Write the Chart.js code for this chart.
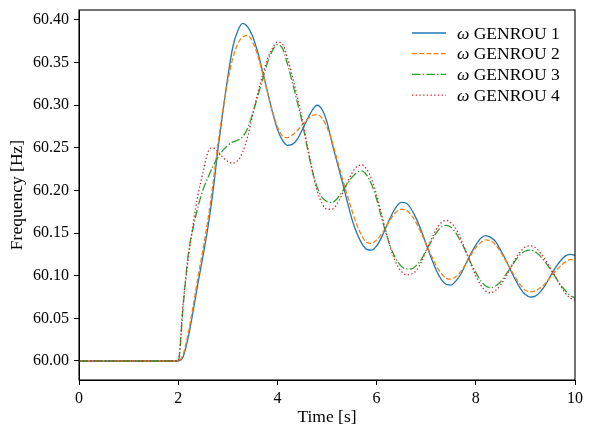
<!DOCTYPE html>
<html>
<head>
<meta charset="utf-8">
<script src="https://cdn.jsdelivr.net/npm/chart.js@4/dist/chart.umd.min.js"></script>
<style>
  html, body { margin: 0; padding: 0; background: #fff; }
  #freqChart { display: block; }
</style>
</head>
<body>
<canvas id="freqChart" width="593" height="436"></canvas>
<script>
// ===== DATA =====
const times = [0,
  2.0, 2.1, 2.2, 2.3, 2.4, 2.5, 2.6, 2.7, 2.8, 2.9,
  3.0, 3.1, 3.2, 3.3, 3.4, 3.5, 3.6, 3.7, 3.8, 3.9,
  4.0, 4.1, 4.2, 4.3, 4.4, 4.5, 4.6, 4.7, 4.8, 4.9,
  5.0, 5.1, 5.2, 5.3, 5.4, 5.5, 5.6, 5.7, 5.8, 5.9,
  6.0, 6.1, 6.2, 6.3, 6.4, 6.5, 6.6, 6.7, 6.8, 6.9,
  7.0, 7.1, 7.2, 7.3, 7.4, 7.5, 7.6, 7.7, 7.8, 7.9,
  8.0, 8.1, 8.2, 8.3, 8.4, 8.5, 8.6, 8.7, 8.8, 8.9,
  9.0, 9.1, 9.2, 9.3, 9.4, 9.5, 9.6, 9.7, 9.8, 9.9,
  10.0];

const genrou1 = [60.000,
  60.000, 60.005, 60.027, 60.058, 60.092, 60.123, 60.157, 60.198, 60.248, 60.292,
  60.333, 60.368, 60.387, 60.396, 60.392, 60.381, 60.363, 60.340, 60.316, 60.292,
  60.272, 60.259, 60.253, 60.254, 60.260, 60.271, 60.283, 60.294, 60.300, 60.295,
  60.280, 60.256, 60.234, 60.212, 60.189, 60.167, 60.150, 60.138, 60.131, 60.130,
  60.135, 60.145, 60.158, 60.171, 60.181, 60.186, 60.185, 60.178, 60.167, 60.153,
  60.137, 60.121, 60.107, 60.096, 60.090, 60.089, 60.094, 60.102, 60.114, 60.126,
  60.136, 60.144, 60.147, 60.145, 60.140, 60.130, 60.119, 60.107, 60.095, 60.085,
  60.078, 60.075, 60.076, 60.081, 60.089, 60.099, 60.109, 60.117, 60.123, 60.125,
  60.124];

const genrou2 = [60.000,
  60.000, 60.008, 60.032, 60.064, 60.099, 60.131, 60.166, 60.208, 60.254, 60.294,
  60.328, 60.355, 60.372, 60.380, 60.382, 60.374, 60.359, 60.338, 60.315, 60.293,
  60.275, 60.264, 60.262, 60.265, 60.270, 60.277, 60.283, 60.288, 60.289, 60.285,
  60.274, 60.258, 60.237, 60.216, 60.196, 60.177, 60.160, 60.147, 60.139, 60.138,
  60.142, 60.149, 60.158, 60.168, 60.175, 60.178, 60.177, 60.171, 60.162, 60.150,
  60.137, 60.124, 60.112, 60.103, 60.097, 60.096, 60.099, 60.105, 60.114, 60.124,
  60.133, 60.139, 60.142, 60.141, 60.136, 60.128, 60.118, 60.108, 60.098, 60.089,
  60.083, 60.081, 60.082, 60.086, 60.091, 60.098, 60.105, 60.111, 60.116, 60.119,
  60.119];

const genrou3 = [60.000,
  60.000, 60.064, 60.124, 60.156, 60.181, 60.201, 60.215, 60.228, 60.239, 60.247,
  60.253, 60.257, 60.259, 60.263, 60.273, 60.290, 60.310, 60.330, 60.350, 60.364,
  60.371, 60.367, 60.349, 60.327, 60.304, 60.280, 60.251, 60.224, 60.204, 60.192,
  60.187, 60.186, 60.190, 60.198, 60.207, 60.215, 60.221, 60.223, 60.218, 60.207,
  60.190, 60.168, 60.148, 60.131, 60.119, 60.111, 60.108, 60.108, 60.112, 60.119,
  60.130, 60.140, 60.150, 60.157, 60.159, 60.157, 60.150, 60.140, 60.128, 60.115,
  60.104, 60.094, 60.088, 60.086, 60.088, 60.093, 60.101, 60.109, 60.118, 60.125,
  60.129, 60.130, 60.128, 60.123, 60.116, 60.108, 60.099, 60.090, 60.083, 60.077,
  60.074];

const genrou4 = [60.000,
  60.000, 60.068, 60.118, 60.160, 60.195, 60.221, 60.245, 60.250, 60.246, 60.239,
  60.234, 60.232, 60.235, 60.245, 60.263, 60.288, 60.313, 60.335, 60.354, 60.367,
  60.374, 60.372, 60.356, 60.334, 60.310, 60.284, 60.254, 60.225, 60.200, 60.185,
  60.178, 60.178, 60.184, 60.195, 60.208, 60.220, 60.228, 60.230, 60.225, 60.213,
  60.195, 60.172, 60.149, 60.129, 60.114, 60.105, 60.101, 60.102, 60.106, 60.116,
  60.129, 60.142, 60.154, 60.162, 60.165, 60.162, 60.155, 60.143, 60.129, 60.114,
  60.100, 60.089, 60.082, 60.080, 60.083, 60.089, 60.098, 60.109, 60.120, 60.128,
  60.134, 60.135, 60.133, 60.127, 60.119, 60.109, 60.099, 60.089, 60.080, 60.074,
  60.071];

const seriesLabels = ['ω GENROU 1', 'ω GENROU 2', 'ω GENROU 3', 'ω GENROU 4'];
const xTicks = [0, 2, 4, 6, 8, 10];
const yTicks = [60.00, 60.05, 60.10, 60.15, 60.20, 60.25, 60.30, 60.35, 60.40];

// ===== STYLE =====
const FONT = "'Liberation Serif', 'DejaVu Serif', serif";
const TICK_SIZE = 16;
const TEXT_SIZE = 17.5;
const colors = ['#1f77b4', '#ff7f0e', '#2ca02c', '#d62728'];
const dashes = [[], [5, 2.2], [8.5, 2.2, 1.4, 2.2], [1.4, 2.3]];

Chart.defaults.font.family = FONT;
Chart.defaults.font.size = TICK_SIZE;
Chart.defaults.color = '#000';

function toPoints(values) {
  return times.map((t, i) => ({ x: t, y: values[i] }));
}

const series = [genrou1, genrou2, genrou3, genrou4];
const datasets = series.map((values, i) => ({
  label: seriesLabels[i],
  data: toPoints(values),
  borderColor: colors[i],
  borderWidth: 1.3,
  borderDash: dashes[i],
  pointRadius: 0,
  fill: false,
  cubicInterpolationMode: 'monotone',
  order: series.length - i   // later series on top, like matplotlib
}));

// ===== PLUGINS =====
const whiteBg = {
  id: 'whiteBg',
  beforeDraw(chart) {
    const c = chart.ctx;
    c.save();
    c.fillStyle = '#fff';
    c.fillRect(0, 0, chart.width, chart.height);
    c.restore();
  }
};

// full box around the axes
const frame = {
  id: 'frame',
  afterDatasetsDraw(chart) {
    const a = chart.chartArea;
    const c = chart.ctx;
    c.save();
    c.strokeStyle = '#000';
    c.lineWidth = 1.1;
    c.strokeRect(a.left, a.top, a.right - a.left, a.bottom - a.top);
    c.restore();
  }
};

// legend inside the axes, upper right, no frame
const innerLegend = {
  id: 'innerLegend',
  afterDraw(chart) {
    const c = chart.ctx;
    const lineX0 = 412, lineX1 = 446, textX = 457;
    const rowY0 = 33, rowStep = 20.7;
    c.save();
    chart.data.datasets.forEach((ds, i) => {
      const y = rowY0 + i * rowStep;
      c.strokeStyle = ds.borderColor;
      c.lineWidth = ds.borderWidth;
      c.setLineDash(ds.borderDash);
      c.beginPath();
      c.moveTo(lineX0, y);
      c.lineTo(lineX1, y);
      c.stroke();
      c.setLineDash([]);

      const parts = ds.label.split(' ');
      const omega = parts[0];
      const rest = ' ' + parts.slice(1).join(' ');
      c.fillStyle = '#000';
      c.textBaseline = 'middle';
      c.textAlign = 'left';
      c.font = 'italic ' + TEXT_SIZE + 'px ' + FONT;
      c.fillText(omega, textX, y + 1);
      const w = c.measureText(omega).width;
      c.font = TEXT_SIZE + 'px ' + FONT;
      c.fillText(rest, textX + w, y + 1);
    });
    c.restore();
  }
};

// ===== CHART =====
const ctx = document.getElementById('freqChart');
const freqChart = new Chart(ctx, {
  type: 'line',
  data: { datasets: datasets },
  options: {
    responsive: false,
    animation: false,
    devicePixelRatio: 1,
    layout: { padding: { top: 10, right: 18, bottom: 0, left: 0 } },
    plugins: {
      legend: { display: false },
      tooltip: { enabled: false }
    },
    scales: {
      x: {
        type: 'linear',
        min: 0,
        max: 10,
        afterBuildTicks: scale => { scale.ticks = xTicks.map(v => ({ value: v })); },
        afterFit: scale => { scale.height = 56; },
        ticks: {
          padding: 4,
          color: '#000',
          maxRotation: 0,
          callback: v => String(v)
        },
        grid: {
          drawOnChartArea: false,
          drawTicks: true,
          tickLength: 5,
          tickWidth: 1,
          tickColor: '#000'
        },
        border: { display: true, color: '#000', width: 1 },
        title: {
          display: true,
          text: 'Time [s]',
          color: '#000',
          font: { size: TEXT_SIZE },
          padding: { top: 0, bottom: 8 }
        }
      },
      y: {
        type: 'linear',
        min: 59.9777,
        max: 60.4117,
        afterBuildTicks: scale => { scale.ticks = yTicks.map(v => ({ value: v })); },
        afterFit: scale => {
          scale.width = 79;
          // tick labels sit well inside the axis range, no extra room needed
          scale.paddingTop = 0;
          scale.paddingBottom = 0;
        },
        ticks: {
          padding: 5,
          color: '#000',
          callback: v => Number(v).toFixed(2)
        },
        grid: {
          drawOnChartArea: false,
          drawTicks: true,
          tickLength: 5,
          tickWidth: 1,
          tickColor: '#000'
        },
        border: { display: true, color: '#000', width: 1 },
        title: {
          display: true,
          text: 'Frequency [Hz]',
          color: '#000',
          font: { size: TEXT_SIZE },
          padding: { top: 7, bottom: 0 }
        }
      }
    }
  },
  plugins: [whiteBg, frame, innerLegend]
});
</script>
</body>
</html>
